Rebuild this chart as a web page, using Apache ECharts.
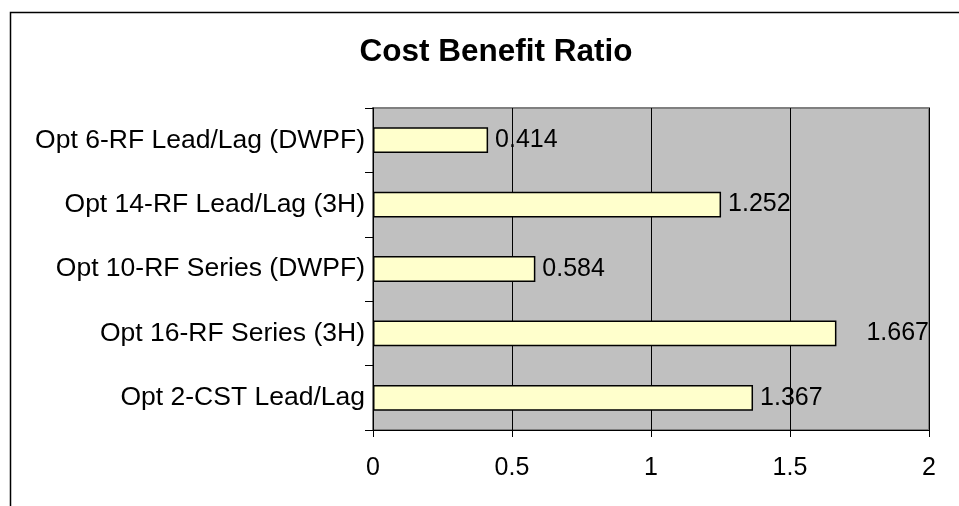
<!DOCTYPE html>
<html>
<head>
<meta charset="utf-8">
<script src="https://cdn.jsdelivr.net/npm/echarts@6/dist/echarts.min.js"></script>
<style>html,body{margin:0;padding:0;background:#fff;}#c{width:959px;height:506px;}</style>
</head>
<body>
<div id="c"></div>
<script>
const titleText = 'Cost Benefit Ratio';
const categories = ['Opt 6-RF Lead/Lag (DWPF)', 'Opt 14-RF Lead/Lag (3H)', 'Opt 10-RF Series (DWPF)', 'Opt 16-RF Series (3H)', 'Opt 2-CST Lead/Lag'];
const values = [0.414, 1.252, 0.584, 1.667, 1.367];
const xTicks = [0, 0.5, 1, 1.5, 2];

const FONT = '"Liberation Sans", Arial, sans-serif';
const chart = echarts.init(document.getElementById('c'), null, {renderer: 'canvas'});
const seriesData = values.map((v, i) => {
  const item = {value: v};
  if (i === 3) item.label = {offset: [23, 0]};
  return item;
});
chart.setOption({
  animation: false,
  backgroundColor: '#ffffff',
  graphic: [{
    type: 'rect', left: 8, top: 10, z: 100, silent: true,
    shape: {width: 1000, height: 600},
    style: {fill: 'none', stroke: '#000', lineWidth: 1.5}
  }],
  title: {
    text: titleText, left: 491, top: 31, textAlign: 'center',
    textStyle: {fontFamily: FONT, fontSize: 31.5, fontWeight: 'bold', color: '#000'}
  },
  grid: {
    left: 373, top: 108, right: 30, bottom: 76,
    show: true, backgroundColor: '#c0c0c0', borderColor: '#808080', borderWidth: 2
  },
  xAxis: {
    type: 'value', min: xTicks[0], max: xTicks[xTicks.length - 1], interval: 0.5,
    axisLine: {show: true, lineStyle: {color: '#000', width: 1}},
    axisTick: {show: true, length: 7, lineStyle: {color: '#000'}},
    axisLabel: {fontFamily: FONT, fontSize: 25, color: '#000', margin: 26},
    splitLine: {show: true, lineStyle: {color: '#000', width: 1}}
  },
  yAxis: {
    type: 'category', data: categories, inverse: true,
    axisLine: {show: true, lineStyle: {color: '#000', width: 1}},
    axisTick: {show: true, length: 8, lineStyle: {color: '#000'}},
    axisLabel: {fontFamily: FONT, fontSize: 26.5, color: '#000', margin: 8},
    splitLine: {show: false}
  },
  series: [{
    type: 'bar', data: seriesData, barWidth: '40%',
    itemStyle: {color: '#FFFFCC', borderColor: '#000', borderWidth: 1.5},
    label: {show: true, position: 'right', distance: 7, fontFamily: FONT, fontSize: 25, color: '#000',
      formatter: p => p.value.toFixed(3)}
  }]
});
</script>
</body>
</html>
